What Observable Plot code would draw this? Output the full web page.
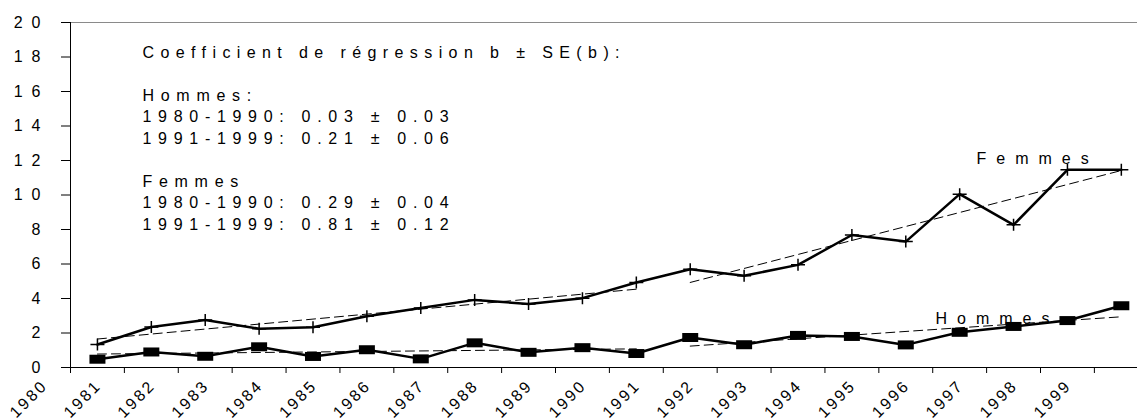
<!DOCTYPE html>
<html>
<head>
<meta charset="utf-8">
<script src="https://cdn.jsdelivr.net/npm/d3@7"></script>
<script src="https://cdn.jsdelivr.net/npm/@observablehq/plot@0.6"></script>
<style>
  html, body { margin: 0; padding: 0; background: #fff; }
  #chart svg { display: block; }
</style>
</head>
<body>
<div id="chart"></div>
<script>
// Tick labels (category axis) and y ticks
const years = [1980,1981,1982,1983,1984,1985,1986,1987,1988,1989,1990,1991,1992,1993,1994,1995,1996,1997,1998,1999];
const yTicks = [0,2,4,6,8,10,12,14,16,18,20];

// Series values (one point per year band)
const hommes = [0.48,0.90,0.65,1.20,0.64,1.03,0.50,1.43,0.88,1.15,0.81,1.74,1.32,1.86,1.80,1.31,2.04,2.38,2.72,3.58];
const femmes = [1.33,2.35,2.75,2.25,2.33,2.97,3.45,3.92,3.68,4.02,4.93,5.70,5.32,5.95,7.68,7.30,10.05,8.27,11.46,11.46];

// Regression segments (periods and fitted end values)
const fitFirstYear = [1980, 1991];
const fitLastYear  = [1990, 1999];
const hommesFitStart = [0.78, 1.24];
const hommesFitEnd   = [1.08, 2.94];
const femmesFitStart = [1.65, 4.93];
const femmesFitEnd   = [4.54, 11.42];

// Texts
const annotationLines = [
  "Coefficient de régression b ± SE(b):",
  "",
  "Hommes:",
  "1980-1990: 0.03 ± 0.03",
  "1991-1999: 0.21 ± 0.06",
  "",
  "Femmes",
  "1980-1990: 0.29 ± 0.04",
  "1991-1999: 0.81 ± 0.12"
];
const seriesNames = ["Hommes", "Femmes"];

// Build tables
const hData = hommes.map((v, i) => ({year: years[i] + 0.5, v}));
const fData = femmes.map((v, i) => ({year: years[i] + 0.5, v}));
function fitTable(starts, ends) {
  const out = [];
  starts.forEach((s, k) => {
    out.push({seg: k, year: fitFirstYear[k] + 0.5, v: s});
    out.push({seg: k, year: fitLastYear[k] + 0.5, v: ends[k]});
  });
  return out;
}
const hFit = fitTable(hommesFitStart, hommesFitEnd);
const fFit = fitTable(femmesFitStart, femmesFitEnd);

const rectSymbol = {draw(ctx) { ctx.rect(-8, -4.5, 16, 9); }};
const plusSymbol = {draw(ctx) { ctx.moveTo(-7, 0); ctx.lineTo(7, 0); ctx.moveTo(0, -6); ctx.lineTo(0, 6); }};

const font = "'Liberation Sans', Arial, Helvetica, sans-serif";

const chart = Plot.plot({
  width: 1137,
  height: 418,
  marginLeft: 70,
  marginRight: 0,
  marginTop: 22,
  marginBottom: 51,
  style: {fontFamily: font, fontSize: "16px", color: "black", background: "white", overflow: "visible"},
  x: {domain: [1980, 1999.8], label: null, axis: null},
  y: {domain: [0, 20], label: null},
  marks: [
    Plot.ruleY([20], {stroke: "#8a8a8a", strokeWidth: 1}),
    Plot.axisY(yTicks, {tickSize: 9, tickPadding: 12, fontSize: 16, label: null, stroke: "black"}),
    Plot.ruleX([1980], {y1: 0, y2: 20, stroke: "black", strokeWidth: 1}),
    Plot.ruleY([0], {stroke: "black", strokeWidth: 1}),
    Plot.ruleX(years, {x: d => d, y1: 0, y2: 0, insetBottom: -6, stroke: "black"}),
    Plot.text(years, {x: d => d, frameAnchor: "bottom", text: d => String(d), rotate: -45, textAnchor: "end", dx: -22, dy: 19, fontSize: 16}),
    // regression lines
    Plot.line(fFit, {x: "year", y: "v", z: "seg", stroke: "black", strokeWidth: 1, strokeDasharray: "9,5"}),
    Plot.line(hFit, {x: "year", y: "v", z: "seg", stroke: "black", strokeWidth: 1, strokeDasharray: "9,5"}),
    // data lines
    Plot.line(fData, {x: "year", y: "v", stroke: "black", strokeWidth: 2.5}),
    Plot.line(hData, {x: "year", y: "v", stroke: "black", strokeWidth: 2.5}),
    Plot.dot(fData, {x: "year", y: "v", symbol: plusSymbol, fill: "none", stroke: "black", strokeWidth: 1.5, r: 6}),
    Plot.dot(hData, {x: "year", y: "v", symbol: rectSymbol, fill: "black", stroke: "none", r: 6}),
    // annotation
    Plot.text([annotationLines.join("\n")], {frameAnchor: "top-left", textAnchor: "start", lineAnchor: "top", lineHeight: 1.344, dx: 72, dy: 20, fontSize: 16}),
    // series labels
    Plot.text([seriesNames[1]], {frameAnchor: "top-left", textAnchor: "start", dx: 906, dy: 130, fontSize: 16}),
    Plot.text([seriesNames[0]], {frameAnchor: "top-left", textAnchor: "start", dx: 865, dy: 290, fontSize: 16})
  ]
});

// Letter spacing like the original (styling only)
d3.select(chart).selectAll("text").each(function () {
  const t = this.textContent;
  let ls = null;
  if (/^\d{4}$/.test(t)) ls = "2.5px";
  else if (/^\d{1,2}$/.test(t)) ls = "9px";
  else if (t.startsWith("Coefficient")) ls = "6.7px";
  else if (seriesNames.includes(t)) ls = "10px";
  if (ls) this.style.letterSpacing = ls;
});
d3.select(chart).selectAll("tspan").each(function () {
  if (this.textContent.startsWith("Coefficient")) this.style.letterSpacing = "6.4px";
});
document.getElementById("chart").appendChild(chart);
</script>
</body>
</html>
